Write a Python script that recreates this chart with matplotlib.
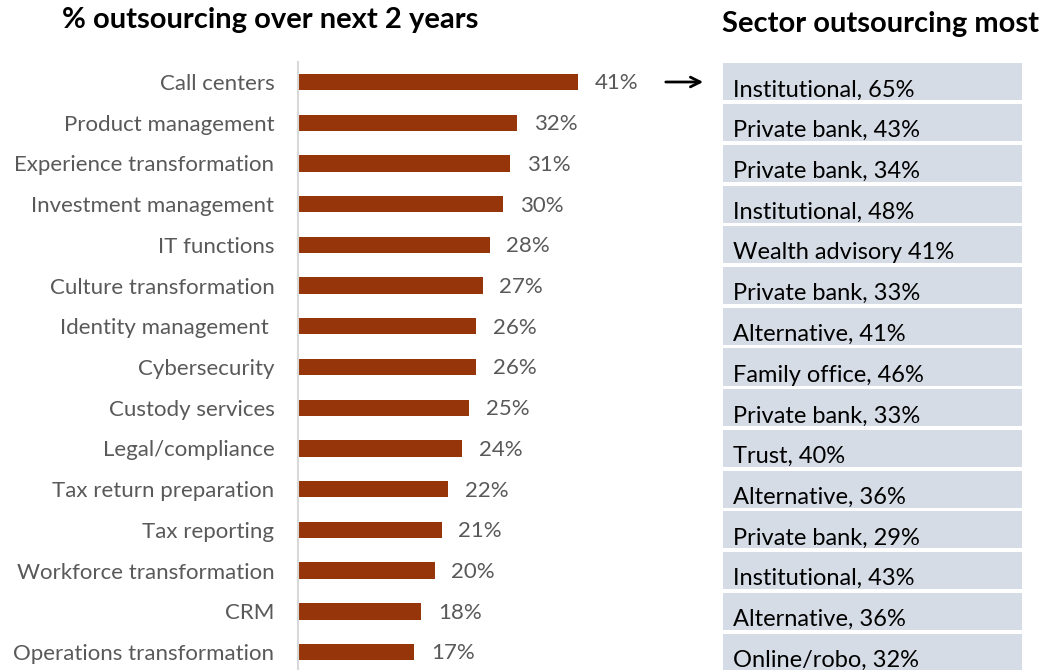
import matplotlib.pyplot as plt

plt.rcParams['font.family'] = ['Lato', 'DejaVu Sans']

# outsourcing shares by function, top to bottom
functions = ['Call centers', 'Product management', 'Experience transformation',
             'Investment management', 'IT functions', 'Culture transformation',
             'Identity management ', 'Cybersecurity', 'Custody services',
             'Legal/compliance', 'Tax return preparation', 'Tax reporting',
             'Workforce transformation', 'CRM', 'Operations transformation']
pct = [41, 32, 31, 30, 28, 27, 26, 26, 25, 24, 22, 21, 20, 18, 17]

# sector that outsources each function the most
top_sector = ['Institutional, 65%', 'Private bank, 43%', 'Private bank, 34%',
              'Institutional, 48%', 'Wealth advisory 41%', 'Private bank, 33%',
              'Alternative, 41%', 'Family office, 46%', 'Private bank, 33%',
              'Trust, 40%', 'Alternative, 36%', 'Private bank, 29%',
              'Institutional, 43%', 'Alternative, 36%', 'Online/robo, 32%']

bar_color = '#963509'
label_color = '#595959'
W, H = 1050, 670

fig = plt.figure(figsize=(10.5, 6.7), dpi=100)

# bar chart: spine at x=298, rows from y=82 to y=652
y0, y1 = 62, 670
ax = fig.add_axes([298 / W, 0, 342 / W, (y1 - y0) / H])
pos = list(range(len(functions)))
ax.barh(pos, pct, height=0.4, color=bar_color)
ax.set_ylim(14.44, -0.49)
ax.set_xlim(0, 50)
ax.set_yticks(pos)
ax.set_yticklabels(functions, fontsize=16, color=label_color)
ax.tick_params(axis='y', length=0, pad=17)
ax.set_xticks([])
for s in ['top', 'right', 'bottom']:
    ax.spines[s].set_visible(False)
ax.spines['left'].set_color('#d9d9d9')
ax.spines['left'].set_linewidth(1.5)
for p, v in zip(pos, pct):
    ax.annotate(f'{v}%', (v, p), xytext=(12, -1), textcoords='offset points',
                va='center', ha='left', fontsize=16, color=label_color)

# side table of leading sectors
tx = fig.add_axes([723 / W, 0, 299 / W, (y1 - y0) / H])
tx.barh(pos, [1] * len(pos), left=0, height=0.91, color='#d6dce5')
tx.set_ylim(14.44, -0.49)
tx.set_xlim(0, 1)
tx.axis('off')
for p, s in zip(pos, top_sector):
    tx.text(0.035, p + 0.2, s, va='center', ha='left', fontsize=17, color='black')

fig.text(62 / W, 1 - 20 / H, '% outsourcing over next 2 years', fontsize=21,
         fontweight='bold', va='center', ha='left')
fig.text(722 / W, 1 - 24 / H, 'Sector outsourcing most', fontsize=21,
         fontweight='bold', va='center', ha='left')

ax.annotate('', xy=(706 / W, 1 - 82 / H), xytext=(663 / W, 1 - 82 / H),
            xycoords='figure fraction',
            arrowprops=dict(arrowstyle='->,head_length=0.7,head_width=0.35',
                            color='black', lw=2))

fig.savefig('out.png', dpi=100)
